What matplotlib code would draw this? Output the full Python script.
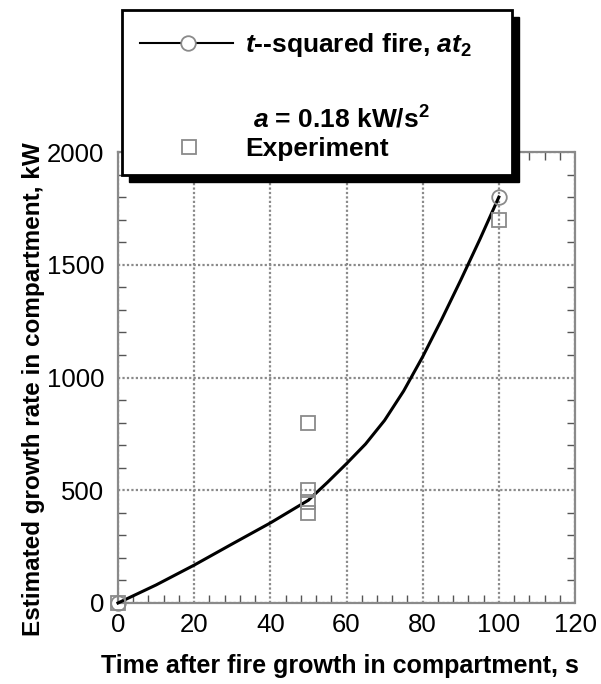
import matplotlib
matplotlib.use("Agg")
import matplotlib.pyplot as plt
from matplotlib.patches import Rectangle
from matplotlib.lines import Line2D
from matplotlib.ticker import MultipleLocator

plt.rcParams['font.family'] = ['Liberation Sans', 'DejaVu Sans']
plt.rcParams['mathtext.fontset'] = 'custom'
plt.rcParams['mathtext.rm'] = 'Liberation Sans:bold'
plt.rcParams['mathtext.it'] = 'Liberation Sans:bold:italic'
plt.rcParams['mathtext.bf'] = 'Liberation Sans:bold'

# t-squared fire curve
t_curve = [0, 10, 20, 30, 40, 50, 55, 60, 65, 70, 75, 80, 85, 90, 95, 100]
q_curve = [0, 80, 168, 262, 355, 456, 535, 618, 705, 810, 940, 1092, 1258, 1432, 1612, 1800]

# experiment points
t_exp = [0, 50, 50, 50, 50, 100]
q_exp = [0, 800, 500, 450, 400, 1700]

xticks = [0, 20, 40, 60, 80, 100, 120]
yticks = [0, 500, 1000, 1500, 2000]

W, H = 601, 684
fig = plt.figure(figsize=(W / 100, H / 100), dpi=100)
ax = fig.add_axes([118 / W, 1 - 603 / H, (575 - 118) / W, (603 - 152) / H])

grey = '#8a8a8a'
ax.plot(t_curve, q_curve, color='black', lw=2.2, marker='o', markevery=[0, len(t_curve) - 1],
        ms=10.5, mfc='none', mec=grey, mew=1.3, clip_on=False, zorder=4)
ax.plot(t_exp, q_exp, ls='none', marker='s', ms=10.5, mfc='none', mec=grey, mew=1.3,
        clip_on=False, zorder=5)

ax.set_xlim(0, 120)
ax.set_ylim(0, 2000)
ax.set_xticks(xticks)
ax.set_yticks(yticks)
ax.xaxis.set_minor_locator(MultipleLocator(4))
ax.yaxis.set_minor_locator(MultipleLocator(100))
ax.tick_params(which='both', direction='in', top=True, right=True, color='#555555',
               labelsize=18.5, width=1)
ax.tick_params(which='major', length=0)
ax.tick_params(axis='x', which='major', pad=7)
ax.tick_params(axis='y', which='major', pad=10)
ax.tick_params(which='minor', length=6)
ax.grid(True, which='major', ls=(0, (1, 1)), color=grey, lw=1.6)
for s in ax.spines.values():
    s.set_linestyle((0, (1, 1)))
    s.set_color(grey)
    s.set_linewidth(1.6)

ax.set_xlabel('Time after fire growth in compartment, s', fontsize=18, fontweight='bold')
ax.xaxis.set_label_coords(0.485, -0.113)
ax.set_ylabel('Estimated growth rate in compartment, kW', fontsize=17.5, fontweight='bold')
ax.yaxis.set_label_coords(-0.16, 0.474)

# legend box with drop shadow
def fx(px):
    return px / W

def fy(py):
    return 1 - py / H

bx0, bx1, by0, by1 = 122, 512, 10, 175
sh = 7
fig.patches.append(Rectangle((fx(bx0 + sh), fy(by1 + sh)), fx(bx1 - bx0), (by1 - by0) / H,
                             transform=fig.transFigure, facecolor='black', edgecolor='black', zorder=10))
fig.patches.append(Rectangle((fx(bx0), fy(by1)), fx(bx1 - bx0), (by1 - by0) / H,
                             transform=fig.transFigure, facecolor='white', edgecolor='black',
                             lw=2, zorder=11))
fig.lines.append(Line2D([fx(140), fx(233)], [fy(43), fy(43)], transform=fig.transFigure,
                        color='black', lw=1.5, zorder=12))
fig.lines.append(Line2D([fx(188)], [fy(43)], transform=fig.transFigure, ls='none', marker='o',
                        ms=10.5, mfc='white', mec=grey, mew=1.3, zorder=13))
fig.lines.append(Line2D([fx(189)], [fy(147)], transform=fig.transFigure, ls='none', marker='s',
                        ms=10.5, mfc='none', mec=grey, mew=1.3, zorder=13))
fig.text(fx(245), fy(45), r'$t$--squared fire, $at_{\mathrm{2}}$', fontsize=19, fontweight='bold',
         va='center', ha='left', zorder=14)
fig.text(fx(253), fy(119), r'$a$ = 0.18 kW/s$^{\mathrm{2}}$', fontsize=19, fontweight='bold',
         va='center', ha='left', zorder=14)
fig.text(fx(245), fy(149), 'Experiment', fontsize=19, fontweight='bold',
         va='center', ha='left', zorder=14)

fig.savefig('out.png', dpi=100)
